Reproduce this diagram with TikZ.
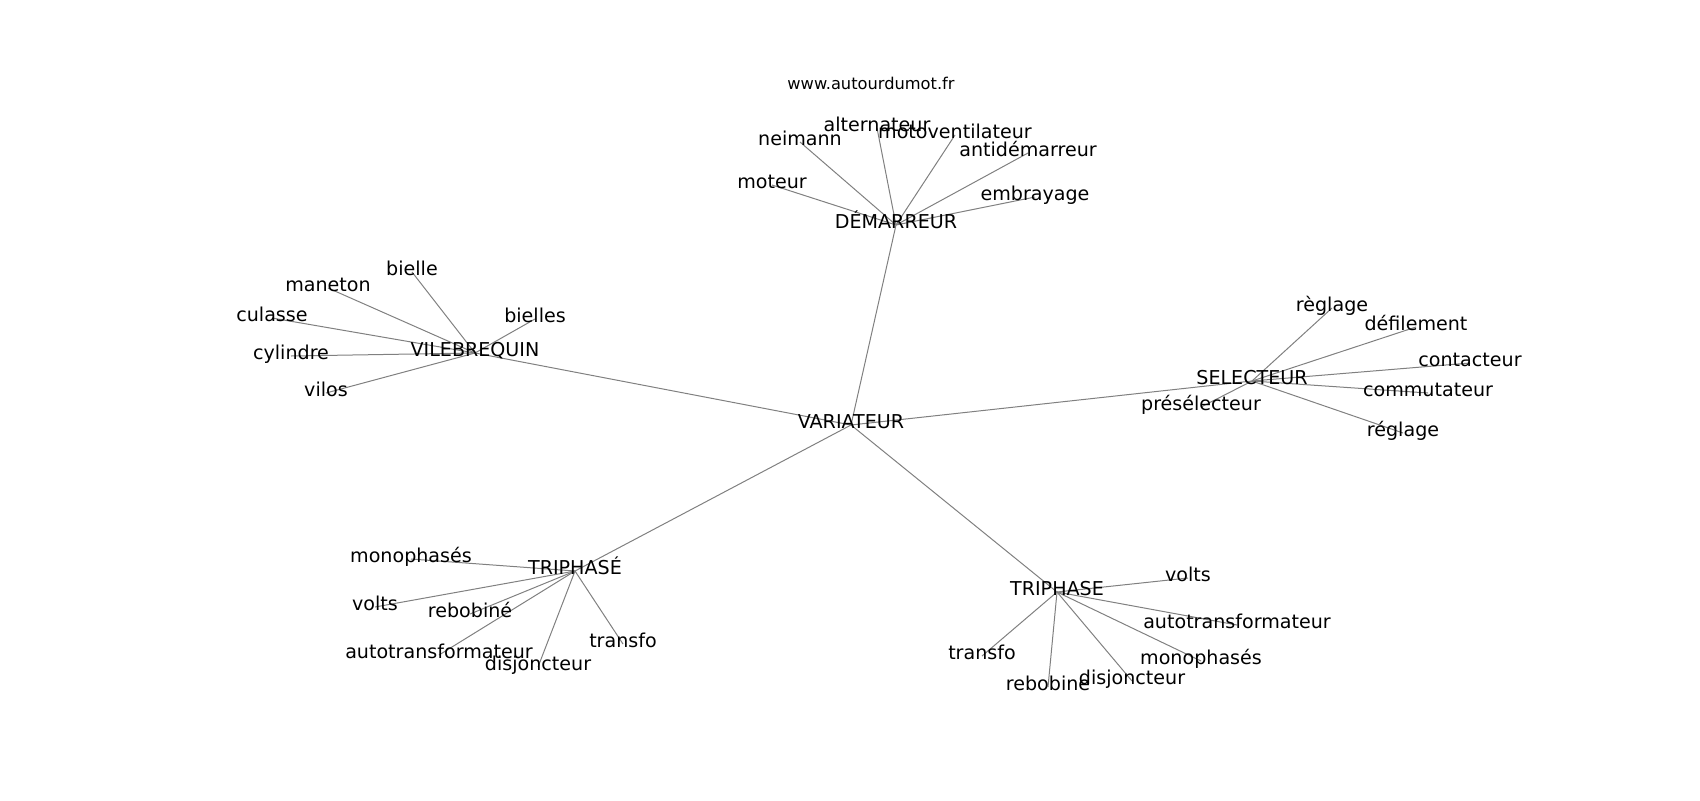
\documentclass[tikz,border=0pt]{standalone}
\usepackage{fontspec}
\setmainfont{DejaVu Sans}
\usetikzlibrary{backgrounds}
\tikzset{
  lbl/.style={inner sep=0pt, text height=0.76em, text depth=0.24em, font=\fontsize{13.75}{16}\selectfont, text=black},
  ttl/.style={inner sep=0pt, text height=0.76em, text depth=0.24em, font=\fontsize{11.7}{14}\selectfont, text=black},
  edge/.style={draw=black!50, line width=0.72pt}
}
\begin{document}
\begin{tikzpicture}[x=0.72pt, y=-0.72pt]
\useasboundingbox (0,-2) rectangle (1700,798);
\node[ttl] (title) at (871,84) {www.autourdumot.fr};
% hubs
\node[lbl] (var) at (851,423) {VARIATEUR};
\node[lbl] (dem) at (896,223) {DÉMARREUR};
\node[lbl] (vil) at (475,351) {VILEBREQUIN};
\node[lbl] (sel) at (1252,379) {SELECTEUR};
\node[lbl] (tri1) at (575,569) {TRIPHASÉ};
\node[lbl] (tri2) at (1057,590) {TRIPHASE};
% demarreur
\node[lbl] (d1) at (772,183) {moteur};
\node[lbl] (d2) at (800,140) {neimann};
\node[lbl] (d3) at (877,126) {alternateur};
\node[lbl] (d4) at (955,133) {motoventilateur};
\node[lbl] (d5) at (1028,151) {antidémarreur};
\node[lbl] (d6) at (1035,195) {embrayage};
% vilebrequin
\node[lbl] (v1) at (412,270) {bielle};
\node[lbl] (v2) at (328,286) {maneton};
\node[lbl] (v3) at (272,316) {culasse};
\node[lbl] (v4) at (291,354) {cylindre};
\node[lbl] (v5) at (326,391) {vilos};
\node[lbl] (v6) at (535,317) {bielles};
% selecteur
\node[lbl] (s1) at (1332,306) {règlage};
\node[lbl] (s2) at (1416,325) {défilement};
\node[lbl] (s3) at (1470,361) {contacteur};
\node[lbl] (s4) at (1428,391) {commutateur};
\node[lbl] (s5) at (1403,431) {réglage};
\node[lbl] (s6) at (1201,405) {présélecteur};
% triphase accent
\node[lbl] (a1) at (411,557) {monophasés};
\node[lbl] (a2) at (375,605) {volts};
\node[lbl] (a3) at (470,612) {rebobiné};
\node[lbl] (a4) at (439,653) {autotransformateur};
\node[lbl] (a5) at (538,665) {disjoncteur};
\node[lbl] (a6) at (623,642) {transfo};
% triphase
\node[lbl] (b1) at (1188,576) {volts};
\node[lbl] (b2) at (1237,623) {autotransformateur};
\node[lbl] (b3) at (1201,659) {monophasés};
\node[lbl] (b4) at (1132,679) {disjoncteur};
\node[lbl] (b5) at (1048,685) {rebobine};
\node[lbl] (b6) at (982,654) {transfo};
\begin{scope}[on background layer]
\foreach \h in {dem,vil,sel,tri1,tri2}
  \draw[edge] (var.center) -- (\h.center);
\foreach \c in {d1,d2,d3,d4,d5,d6}
  \draw[edge] (dem.center) -- (\c.center);
\foreach \c in {v1,v2,v3,v4,v5,v6}
  \draw[edge] (vil.center) -- (\c.center);
\foreach \c in {s1,s2,s3,s4,s5,s6}
  \draw[edge] (sel.center) -- (\c.center);
\foreach \c in {a1,a2,a3,a4,a5,a6}
  \draw[edge] (tri1.center) -- (\c.center);
\foreach \c in {b1,b2,b3,b4,b5,b6}
  \draw[edge] (tri2.center) -- (\c.center);
\end{scope}
\end{tikzpicture}
\end{document}
